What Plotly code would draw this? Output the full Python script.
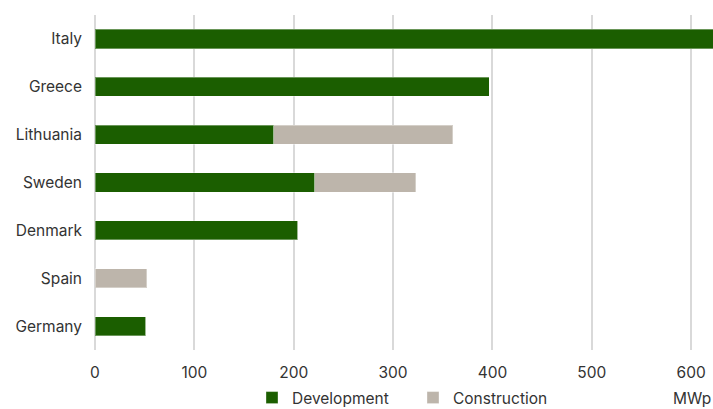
import plotly.graph_objects as go

countries = ["Italy", "Greece", "Lithuania", "Sweden", "Denmark", "Spain", "Germany"]
development = [630, 397, 180, 221, 204, 0, 51]
construction = [0, 0, 180, 102, 0, 52, 0]
x_ticks = [0, 100, 200, 300, 400, 500, 600]
unit_label = "MWp"

font_family = "Inter, 'Open Sans', sans-serif"
text_color = "#333333"
fs = 15.5

fig = go.Figure()
fig.add_trace(go.Bar(
    y=countries, x=development, name="Development", orientation="h",
    marker=dict(color="#1b5e00", line=dict(color="rgba(255,255,255,0.35)", width=1)),
    width=0.4,
))
fig.add_trace(go.Bar(
    y=countries, x=construction, name="Construction", orientation="h",
    marker=dict(color="#bdb5ab", line=dict(color="rgba(255,255,255,0.35)", width=1)),
    width=0.4,
))

legend_y = -(398 - 350) / 335

fig.update_layout(
    barmode="stack",
    width=713, height=409,
    margin=dict(l=95, r=0, t=15, b=59, autoexpand=False),
    plot_bgcolor="white", paper_bgcolor="white",
    font=dict(family=font_family, size=fs, color=text_color),
    showlegend=True,
    legend=dict(orientation="h", x=(252 - 95) / 618, xanchor="left",
                y=legend_y, yanchor="middle",
                font=dict(size=fs, color=text_color), itemwidth=30,
                entrywidth=116, entrywidthmode="pixels",
                traceorder="normal", tracegroupgap=0),
    xaxis=dict(range=[0, 622], tickvals=x_ticks, showgrid=True, gridcolor="#d9d9d9",
               gridwidth=1.5, zeroline=True, zerolinecolor="#d9d9d9", zerolinewidth=1.5,
               showline=False, ticks="", ticklabelstandoff=11,
               tickfont=dict(size=fs, color=text_color)),
    yaxis=dict(categoryorder="array", categoryarray=countries[::-1], showgrid=False,
               ticks="", ticklabelstandoff=12, tickfont=dict(size=fs, color=text_color)),
    annotations=[dict(text=unit_label, xref="paper", yref="paper", x=1.0,
                      y=legend_y,
                      xanchor="right", yanchor="middle", showarrow=False,
                      font=dict(size=fs, color=text_color))],
)

fig.write_html("out.html")
